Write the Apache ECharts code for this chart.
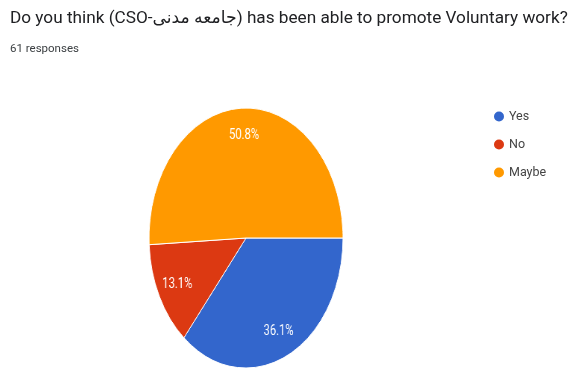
<!DOCTYPE html>
<html><head><meta charset="utf-8">
<script src="https://cdn.jsdelivr.net/npm/echarts@6/dist/echarts.min.js"></script>
<style>
html,body{margin:0;padding:0;background:#fff;overflow:hidden}
#main{position:absolute;left:0;top:0;width:571px;height:369px}
#pie{position:absolute;left:111px;top:103px;width:270px;height:270px;transform:scaleX(0.746);transform-origin:135px 135px}
</style></head><body>
<div id="main"></div><div id="pie"></div>
<script>
const titleText = 'Do you think (CSO-جامعه مدنی) has been able to promote Voluntary work?';
const subtitleText = '61 responses';
const categories = ['Yes', 'No', 'Maybe'];
const counts = [22, 8, 31];
const colors = ['#3366cc', '#dc3912', '#ff9900'];

const pieData = categories.map((c, i) => ({ name: c, value: counts[i], itemStyle: { color: colors[i] } }));
const font = 'Roboto, "DejaVu Sans", sans-serif';

const main = echarts.init(document.getElementById('main'), null, { renderer: 'canvas' });
main.setOption({
  animation: false,
  backgroundColor: '#fff',
  title: {
    text: titleText,
    subtext: subtitleText,
    left: 5, top: 5,
    itemGap: 16,
    textStyle: { fontFamily: font, fontSize: 17.2, fontWeight: 'normal', color: '#202124' },
    subtextStyle: { fontFamily: font, fontSize: 11.5, color: '#3c4043' }
  },
  legend: {
    orient: 'vertical',
    left: 489, top: 105,
    icon: 'circle',
    itemWidth: 10, itemHeight: 10,
    itemGap: 15,
    selectedMode: false,
    textStyle: { fontFamily: font, fontSize: 12.5, color: '#444' },
    data: categories
  },
  series: [{
    type: 'pie',
    radius: [0, 0],
    center: [-50, -50],
    silent: true,
    label: { show: false },
    labelLine: { show: false },
    data: pieData
  }]
});

const pie = echarts.init(document.getElementById('pie'), null, { renderer: 'canvas' });
pie.setOption({
  animation: false,
  series: [{
    type: 'pie',
    radius: 130,
    center: [135, 135],
    startAngle: 0,
    clockwise: true,
    silent: true,
    itemStyle: { borderColor: '#fff', borderWidth: 1 },
    label: { show: false },
    labelLine: { show: false },
    emphasis: { disabled: true },
    data: pieData
  }, {
    type: 'pie',
    radius: [70, 130],
    center: [135, 135],
    startAngle: 0,
    clockwise: true,
    silent: true,
    percentPrecision: 1,
    itemStyle: { color: 'rgba(0,0,0,0)', borderWidth: 0 },
    label: { show: true, position: 'inside', formatter: '{d}%', color: '#fff', fontFamily: font, fontSize: 15 },
    labelLine: { show: false },
    emphasis: { disabled: true },
    data: categories.map((c, i) => ({ name: c, value: counts[i] }))
  }]
});
</script>
</body></html>
